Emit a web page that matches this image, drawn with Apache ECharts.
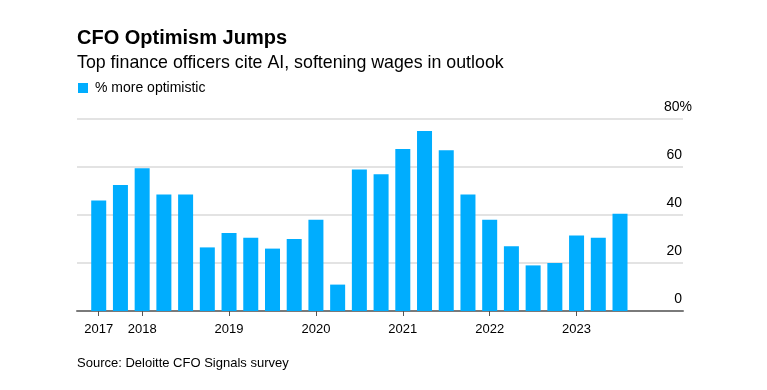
<!DOCTYPE html>
<html>
<head>
<meta charset="utf-8">
<script src="https://cdn.jsdelivr.net/npm/echarts@6/dist/echarts.min.js"></script>
<style>
html,body{margin:0;padding:0;background:#fff;}
#c{width:767px;height:390px;}
</style>
</head>
<body>
<div id="c"></div>
<script>
var quarters = ['2017 Q3','2017 Q4','2018 Q1','2018 Q2','2018 Q3','2018 Q4','2019 Q1','2019 Q2','2019 Q3','2019 Q4','2020 Q1','2020 Q2','2020 Q3','2020 Q4','2021 Q1','2021 Q2','2021 Q3','2021 Q4','2022 Q1','2022 Q2','2022 Q3','2022 Q4','2023 Q1','2023 Q2','2023 Q3'];
var moreOptimistic = [46, 52.5, 59.5, 48.5, 48.5, 26.5, 32.5, 30.5, 26, 30, 38, 11, 59, 57, 67.5, 75, 67, 48.5, 38, 27, 19, 20, 31.5, 30.5, 40.5];
var yearTickIdx = [0, 2, 6, 10, 14, 18, 22];
var yTicks = [0, 20, 40, 60, 80];

var FONT = '"Liberation Sans", Arial, sans-serif';
var chart = echarts.init(document.getElementById('c'), null, {renderer: 'canvas'});
var barData = moreOptimistic.map(function (v, i) { return [i, v]; });

chart.setOption({
  animation: false,
  backgroundColor: '#ffffff',
  textStyle: {fontFamily: FONT},
  title: [
    {text: 'CFO Optimism Jumps', left: 77, top: 28, padding: 0,
     textStyle: {fontFamily: FONT, fontSize: 20, fontWeight: 'bold', color: '#000'}},
    {text: 'Top finance officers cite AI, softening wages in outlook', left: 77, top: 54, padding: 0,
     textStyle: {fontFamily: FONT, fontSize: 17.8, fontWeight: 'normal', color: '#000'}},
    {text: 'Source: Deloitte CFO Signals survey', left: 77, top: 357, padding: 0,
     textStyle: {fontFamily: FONT, fontSize: 13, fontWeight: 'normal', color: '#000'}}
  ],
  legend: {
    left: 78, top: 81, padding: 0, itemWidth: 10, itemHeight: 10, itemGap: 6,
    icon: 'rect',
    textStyle: {fontFamily: FONT, fontSize: 14, color: '#000', padding: [0, 0, 0, 2]},
    data: ['% more optimistic']
  },
  grid: {left: 77, right: 84, top: 119, bottom: 79, containLabel: false},
  xAxis: {
    type: 'value', min: -1, max: 26.9,
    splitLine: {show: false},
    axisLine: {show: true, lineStyle: {color: '#7a7a7a', width: 2}},
    axisTick: {show: true, customValues: yearTickIdx, length: 5, lineStyle: {color: '#555', width: 1}},
    axisLabel: {show: true, customValues: yearTickIdx, margin: 12, fontSize: 13, color: '#000', fontFamily: FONT,
      formatter: function (v) { return quarters[Math.round(v)].slice(0, 4); }}
  },
  yAxis: {
    type: 'value', position: 'right', min: 0, max: 80, interval: 20,
    axisLine: {show: false}, axisTick: {show: false},
    splitLine: {show: true, lineStyle: {color: '#e3e3e3', width: 2}},
    axisLabel: {
      show: true, inside: false, margin: -19, align: 'left', verticalAlign: 'middle',
      padding: [0, 0, 24, 0],
      formatter: function (v) { return v === 80 ? '{q|80%}' : '{n|' + v + '}'; },
      rich: {
        n: {width: 18, align: 'right', fontSize: 14, color: '#000', fontFamily: FONT},
        q: {align: 'left', fontSize: 14, color: '#000', fontFamily: FONT}
      }
    }
  },
  series: [{
    name: '% more optimistic', type: 'bar', barWidth: 15,
    itemStyle: {color: '#00adfe'},
    data: barData
  }]
});
</script>
</body>
</html>
